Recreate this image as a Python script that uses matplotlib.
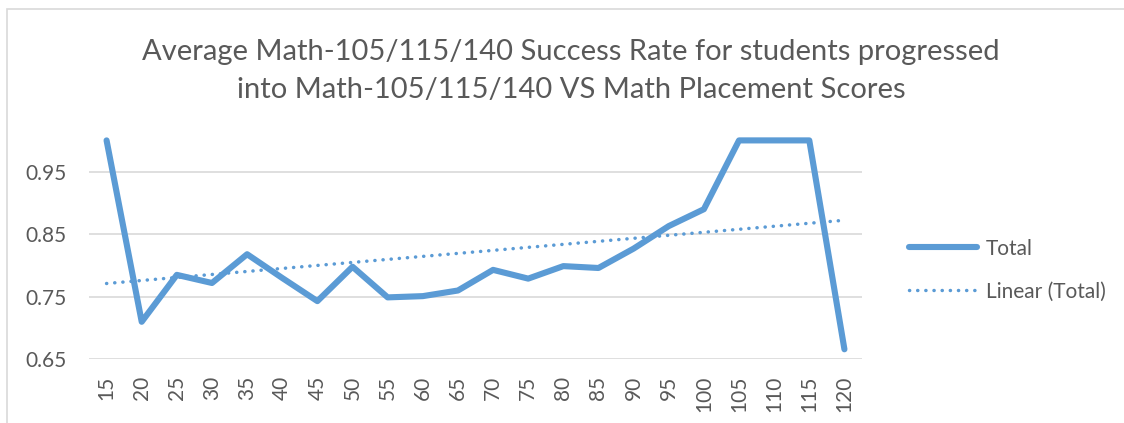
import numpy as np
import matplotlib
matplotlib.use("Agg")
import matplotlib.pyplot as plt
from matplotlib.patches import Rectangle

scores = [15, 20, 25, 30, 35, 40, 45, 50, 55, 60, 65, 70, 75, 80, 85, 90, 95, 100, 105, 110, 115, 120]
total = [1.0, 0.710, 0.785, 0.772, 0.818, 0.780, 0.743, 0.798, 0.749, 0.751, 0.760,
         0.793, 0.779, 0.799, 0.796, 0.827, 0.863, 0.890, 1.0, 1.0, 1.0, 0.666]
yticks = [0.65, 0.75, 0.85, 0.95]
title = "Average Math-105/115/140 Success Rate for students progressed\ninto Math-105/115/140 VS Math Placement Scores"

blue = "#5B9BD5"
grey = "#595959"
plt.rcParams['font.family'] = ['Lato', 'DejaVu Sans']

fig = plt.figure(figsize=(11.24, 4.23), dpi=100)
fig.patches.append(Rectangle((7 / 1124, -0.1), 1.2, (423 - 9) / 423 + 0.1, transform=fig.transFigure,
                             fill=False, edgecolor="#D9D9D9", linewidth=1.2))
ax = fig.add_axes([89 / 1124, (423 - 359.3) / 423, (862 - 89) / 1124, (359.3 - 140.4) / 423])

x = np.arange(len(scores))
ax.plot(x, total, color=blue, linewidth=4.4, label="Total", clip_on=False, solid_joinstyle="round", solid_capstyle="round")

# linear trendline like excel
k, b = np.polyfit(x, total, 1)
ax.plot(x, k * x + b, color=blue, linewidth=2.5, linestyle=(0, (0.05, 2.3)), dash_capstyle="round",
        label="Linear (Total)")

ax.set_xlim(-0.5, len(scores) - 0.5)
ax.set_ylim(0.65, 1.0)
ax.set_yticks(yticks)
ax.set_yticklabels(["%.2f" % v for v in yticks])
ax.set_xticks(x)
ax.set_xticklabels([str(s) for s in scores], rotation=90, va="top")
ax.grid(axis="y", color="#D9D9D9", linewidth=1.2)
ax.set_axisbelow(True)
for s in ax.spines.values():
    s.set_visible(False)
ax.tick_params(axis="y", length=0, pad=16, labelsize=15, labelcolor=grey)
ax.tick_params(axis="x", length=0, pad=12, labelsize=15, labelcolor=grey)

fig.text(571 / 1124, 1 - 71 / 423, title, ha="center", va="center", fontsize=21, color=grey, linespacing=1.55)

leg = ax.legend(loc="center left", bbox_to_anchor=(890 / 1124, 1 - 270 / 423), bbox_transform=fig.transFigure,
                frameon=False, fontsize=15, handlelength=3.3, labelspacing=1.1, handletextpad=0.4)
for t in leg.get_texts():
    t.set_color(grey)

fig.savefig("out.png", dpi=100)
